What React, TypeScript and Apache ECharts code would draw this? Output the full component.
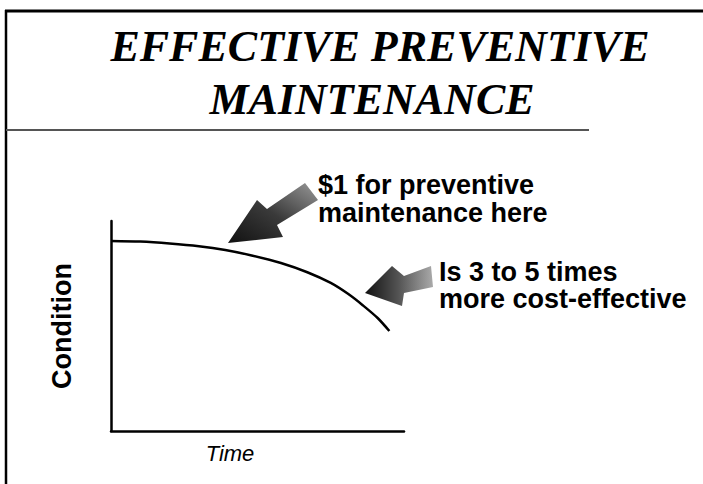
import React, { useEffect, useRef } from "react";
import * as echarts from "echarts";

const timeValues = [0, 10, 20, 30, 39, 48, 58, 67, 75, 81, 86, 91, 95];
const conditionValues = [90.5, 90.2, 89.3, 88.0, 86.2, 83.6, 80, 75.6, 70.5, 65.2, 59.8, 53.8, 47.6];
const titleLines = ["EFFECTIVE PREVENTIVE", "MAINTENANCE"];
const note1 = ["$1 for preventive", "maintenance here"];
const note2 = ["Is 3 to 5 times", "more cost-effective"];
const xName = "Time";
const yName = "Condition";

export default function App() {
  const ref = useRef<HTMLDivElement>(null);
  useEffect(() => {
    if (!ref.current) return;
    const chart = echarts.init(ref.current, undefined, { renderer: "svg" });
    const sans = '"Liberation Sans", Arial, sans-serif';
    const serif = '"Liberation Serif", "Times New Roman", serif';
    chart.setOption({
      animation: false,
      backgroundColor: "#fff",
      grid: { left: 111, right: 299, top: 221, bottom: 53 },
      xAxis: {
        type: "value",
        min: 0,
        max: 100,
        name: xName,
        nameLocation: "middle",
        nameGap: 11,
        nameTextStyle: { fontFamily: sans, fontStyle: "italic", fontSize: 22, color: "#000", padding: [0, 55, 0, 0] },
        axisLine: { show: true, lineStyle: { color: "#000", width: 2.5 } },
        axisTick: { show: false },
        axisLabel: { show: false },
        splitLine: { show: false },
      },
      yAxis: {
        type: "value",
        min: 0,
        max: 100,
        name: yName,
        nameLocation: "middle",
        nameRotate: 90,
        nameGap: 36,
        nameTextStyle: { fontFamily: sans, fontWeight: "bold", fontSize: 27, color: "#000" },
        axisLine: { show: true, lineStyle: { color: "#000", width: 2.5 } },
        axisTick: { show: false },
        axisLabel: { show: false },
        splitLine: { show: false },
      },
      series: [
        {
          type: "line",
          data: timeValues.map((t, i) => [t, conditionValues[i]]),
          smooth: 0.3,
          showSymbol: false,
          lineStyle: { color: "#000", width: 2.5 },
        },
      ],
      graphic: [
        { type: "line", shape: { x1: 5, y1: 11, x2: 703, y2: 11 }, style: { stroke: "#000", lineWidth: 3 } },
        { type: "line", shape: { x1: 6, y1: 10, x2: 6, y2: 484 }, style: { stroke: "#000", lineWidth: 2.5 } },
        { type: "line", shape: { x1: 6, y1: 130, x2: 589, y2: 130 }, style: { stroke: "#555", lineWidth: 2 } },
        {
          type: "text", x: 380, y: 46,
          style: { text: titleLines[0], font: `italic bold 44px ${serif}`, fill: "#000", align: "center", verticalAlign: "middle" },
        },
        {
          type: "text", x: 372, y: 99,
          style: { text: titleLines[1], font: `italic bold 44px ${serif}`, fill: "#000", align: "center", verticalAlign: "middle" },
        },
        {
          type: "polygon",
          shape: { points: [[228, 243], [257, 200], [267, 209], [305, 183], [318, 200], [277, 225], [283, 237]] },
          style: {
            fill: { type: "linear", x: 0, y: 1, x2: 1, y2: 0, colorStops: [{ offset: 0, color: "#111" }, { offset: 0.5, color: "#3a3a3a" }, { offset: 1, color: "#999" }] },
          },
        },
        {
          type: "polygon",
          shape: { points: [[365, 293], [392, 266], [404, 276], [431, 266], [433, 287], [404, 293], [402, 306]] },
          style: {
            fill: { type: "linear", x: 0, y: 0, x2: 1, y2: 0, colorStops: [{ offset: 0, color: "#111" }, { offset: 0.5, color: "#555" }, { offset: 1, color: "#aaa" }] },
          },
        },
        { type: "text", x: 318, y: 199, style: { text: note1.join("\n"), font: `bold 27px ${sans}`, lineHeight: 28, fill: "#000", align: "left", verticalAlign: "middle" } },
        { type: "text", x: 439, y: 285.5, style: { text: note2.join("\n"), font: `bold 27px ${sans}`, lineHeight: 27, fill: "#000", align: "left", verticalAlign: "middle" } },
      ],
    });
    return () => chart.dispose();
  }, []);
  return <div ref={ref} style={{ width: 703, height: 484, position: "absolute", left: 0, top: 0 }} />;
}
